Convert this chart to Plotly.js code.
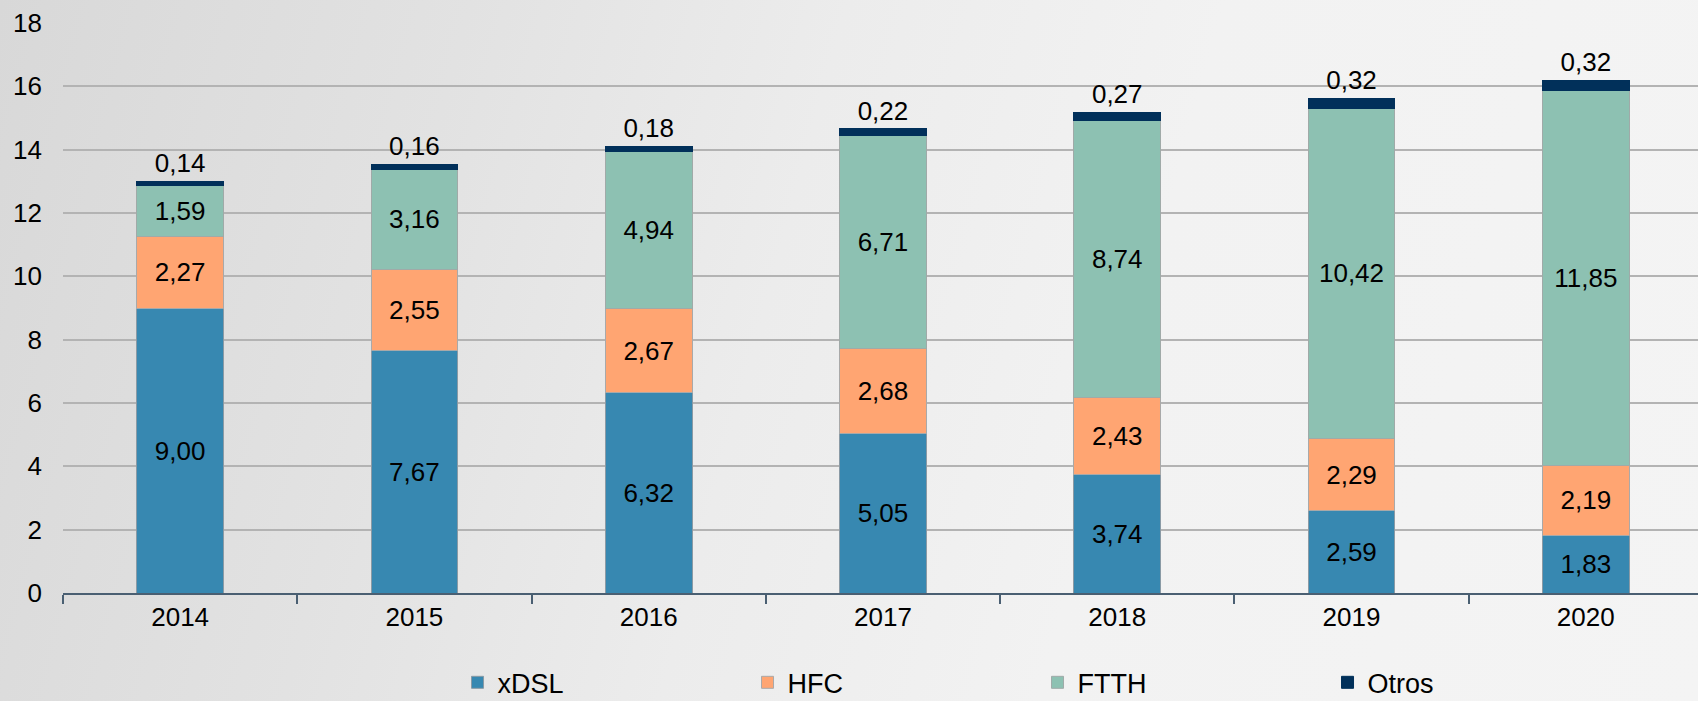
<!DOCTYPE html>
<html>
<head>
<meta charset="utf-8">
<script src="https://cdn.plot.ly/plotly-3.0.1.min.js"></script>
<style>
html,body{margin:0;padding:0;}
#chart{width:1698px;height:701px;
background:linear-gradient(105deg,#d8d8d8 0%,#e2e2e2 25%,#ececec 45%,#f2f2f2 65%,#f4f4f4 100%);}
</style>
</head>
<body>
<div id="chart"></div>
<script>
const years = ['2014','2015','2016','2017','2018','2019','2020'];
const xdsl  = [9.00, 7.67, 6.32, 5.05, 3.74, 2.59, 1.83];
const hfc   = [2.27, 2.55, 2.67, 2.68, 2.43, 2.29, 2.19];
const ftth  = [1.59, 3.16, 4.94, 6.71, 8.74, 10.42, 11.85];
const otros = [0.14, 0.16, 0.18, 0.22, 0.27, 0.32, 0.32];
const yTicks = [0, 2, 4, 6, 8, 10, 12, 14, 16, 18];

const fmt = v => v.toFixed(2).replace('.', ',');
const font = 'Liberation Sans, Arial, sans-serif';

function seg(name, vals, color, lineColor, pos) {
  return {
    type: 'bar', name: name, x: years, y: vals,
    text: vals.map(fmt), textposition: pos, textangle: 0,
    insidetextanchor: 'middle', constraintext: 'none', cliponaxis: false,
    textfont: {family: font, size: 26, color: '#000'},
    insidetextfont: {family: font, size: 26, color: '#000'},
    outsidetextfont: {family: font, size: 26, color: '#000'},
    marker: {color: color, line: {color: lineColor, width: 1}},
    hoverinfo: 'x+y+name'
  };
}

const data = [
  seg('xDSL', xdsl, '#3788b1', '#8a9aa5', 'inside'),
  seg('HFC', hfc, '#ffa572', '#a9a9a9', 'inside'),
  seg('FTTH', ftth, '#8dc1b2', '#a0aaa8', 'inside'),
  seg('Otros', otros, '#01305a', '#01305a', 'outside')
];

const layout = {
  width: 1698, height: 701,
  paper_bgcolor: 'rgba(0,0,0,0)', plot_bgcolor: 'rgba(0,0,0,0)',
  margin: {l: 63, r: 0, t: 23, b: 108},
  barmode: 'stack', bargap: 0.63,
  font: {family: font, color: '#000'},
  xaxis: {
    type: 'category', range: [-0.5, 6.479],
    showline: true, linecolor: '#4a5f72', linewidth: 2,
    ticks: 'outside', tickson: 'boundaries', ticklen: 9, tickwidth: 2, tickcolor: '#4a5f72',
    tickfont: {family: font, size: 26, color: '#000'},
    showgrid: false, fixedrange: true, automargin: false
  },
  yaxis: {
    range: [0, 18], tickvals: yTicks, ticktext: yTicks.map(String),
    showgrid: true, gridcolor: '#b3b3b3', gridwidth: 2,
    zeroline: false, showline: false, ticks: '',
    ticklabelstandoff: 20,
    tickfont: {family: font, size: 26, color: '#000'},
    fixedrange: true, automargin: false
  },
  showlegend: true,
  legend: {
    orientation: 'h', xref: 'paper', x: 0.2413, xanchor: 'left',
    yref: 'container', y: 0.026, yanchor: 'middle',
    entrywidth: 245, entrywidthmode: 'pixels', traceorder: 'normal',
    font: {family: font, size: 27, color: '#000'},
    bgcolor: 'rgba(0,0,0,0)', itemwidth: 30
  }
};

Plotly.newPlot('chart', data, layout, {displayModeBar: false, staticPlot: true});
</script>
</body>
</html>
